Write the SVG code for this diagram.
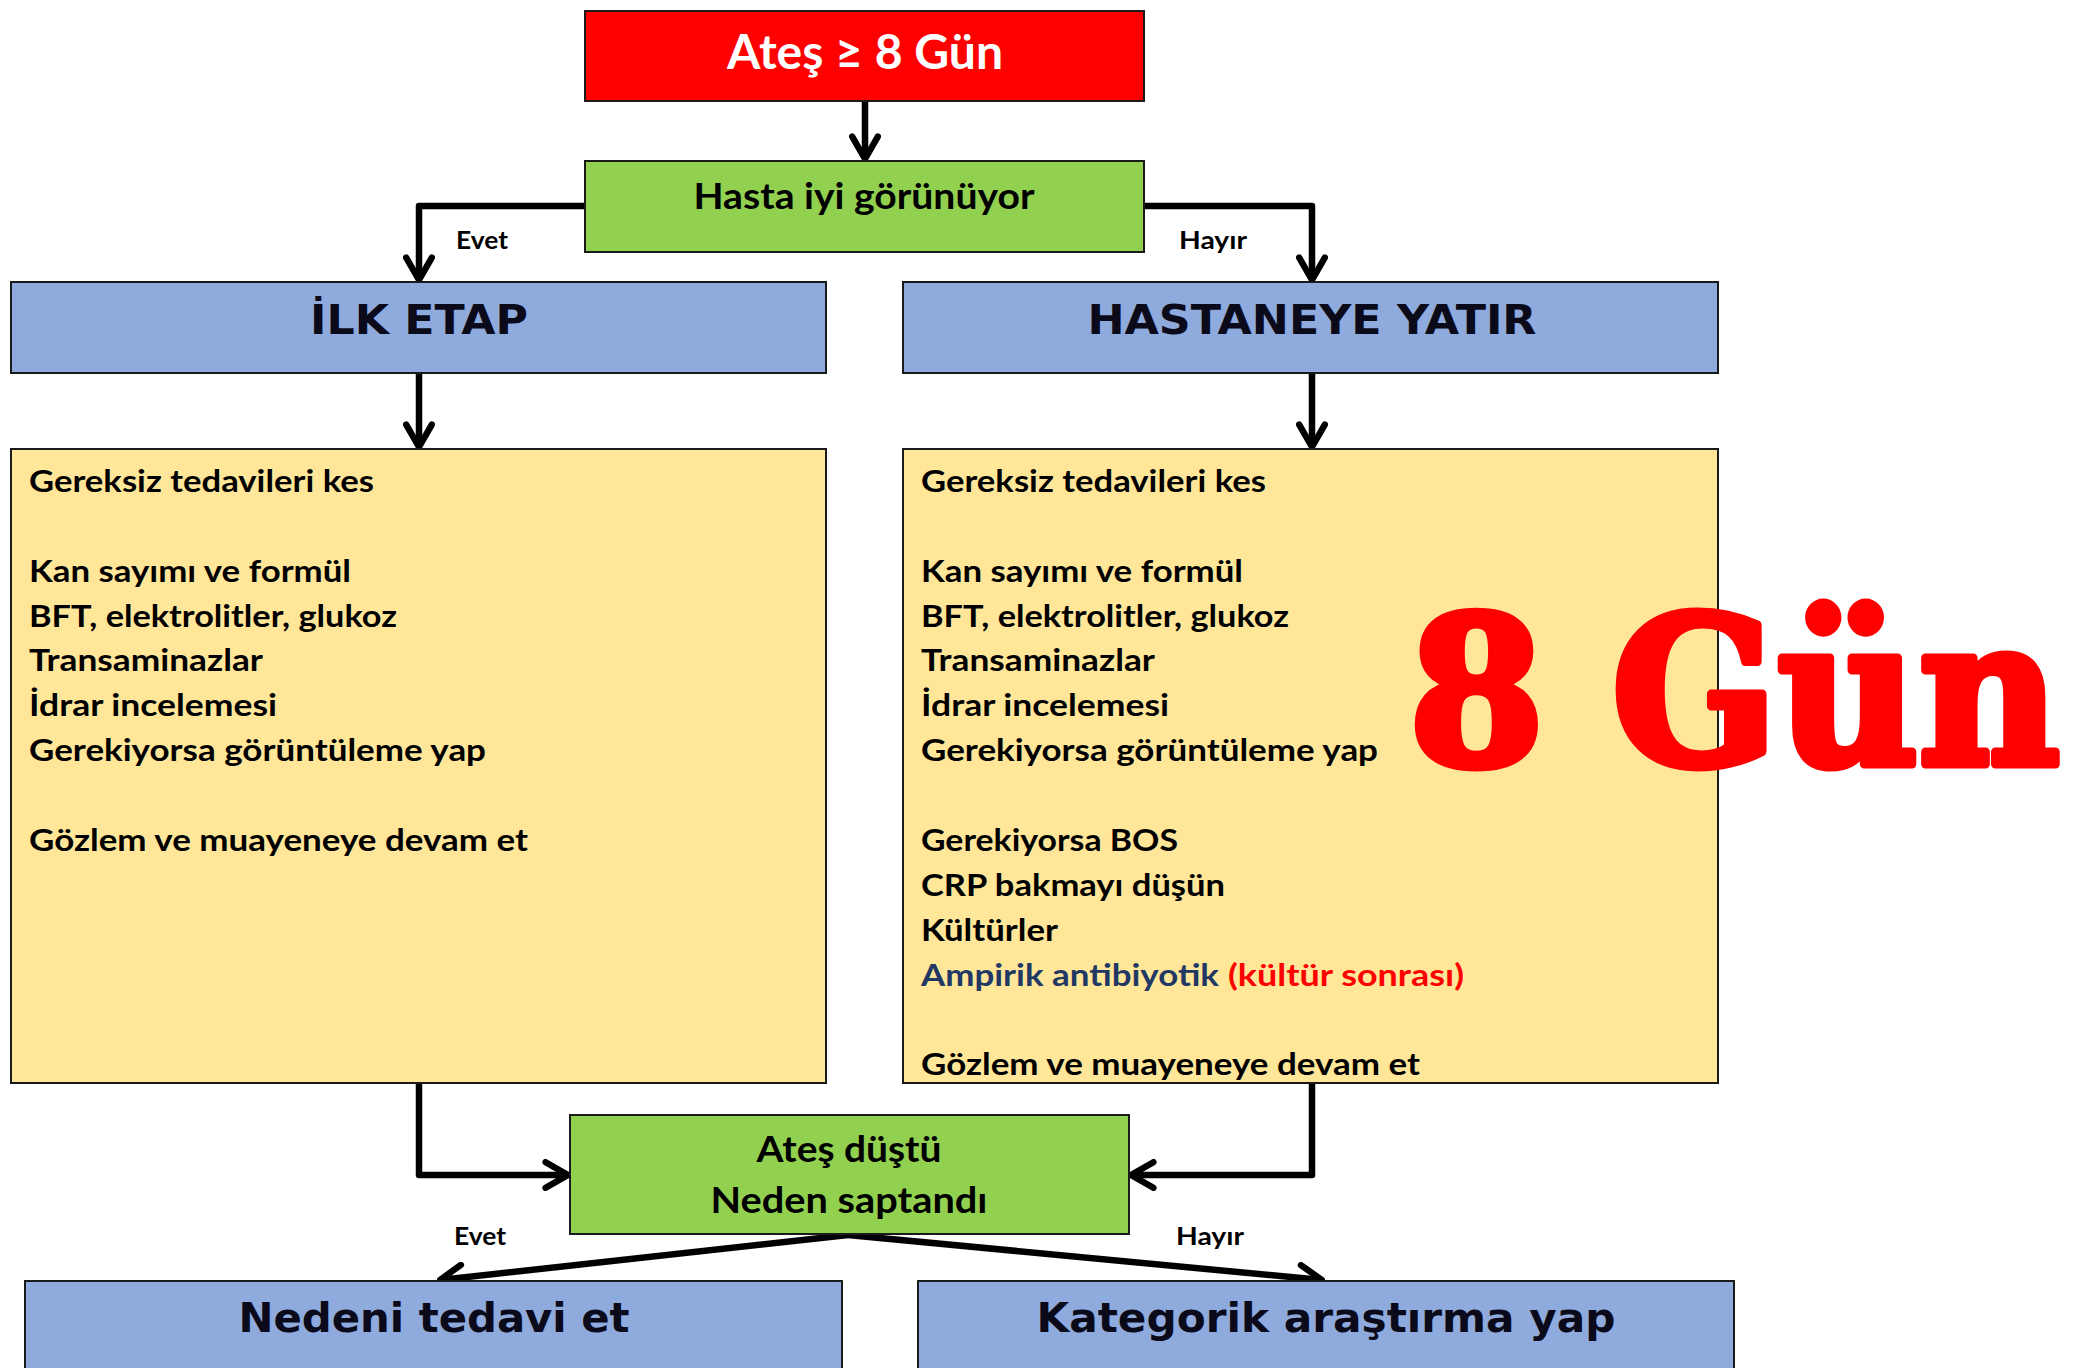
<svg xmlns="http://www.w3.org/2000/svg" width="2088" height="1368" viewBox="0 0 2088 1368">
<style>
.box{stroke:#1a1a1a;stroke-width:2}
.red{fill:#FF0000}
.green{fill:#92D050}
.blue{fill:#8FAADC}
.yel{fill:#FFE699}
.t{font-family:Lato,"Open Sans","Liberation Sans",sans-serif;font-weight:bold;fill:#000}
.h{font-family:"DejaVu Sans",Verdana,sans-serif;font-weight:bold;fill:#0a0a1a}
.lbl{font-family:Lato,"Liberation Sans",sans-serif;font-weight:bold;font-size:25px;fill:#000}
.c{stroke:#000;stroke-width:6.5;fill:none;stroke-linejoin:round}
</style>
<defs>
<marker id="ah" viewBox="0 0 20 20" refX="18" refY="10" markerWidth="32" markerHeight="32" markerUnits="userSpaceOnUse" orient="auto">
<path d="M4,2 L18,10 L4,18" fill="none" stroke="#000" stroke-width="4" stroke-linecap="round" stroke-linejoin="round"/>
</marker>
</defs>

<g id="connectors">
<path class="c" d="M865,101 L865,159" marker-end="url(#ah)"/>
<path class="c" d="M585,206 L419,206 L419,280" marker-end="url(#ah)"/>
<path class="c" d="M1144,206 L1312,206 L1312,280" marker-end="url(#ah)"/>
<path class="c" d="M419,373 L419,447" marker-end="url(#ah)"/>
<path class="c" d="M1312,373 L1312,447" marker-end="url(#ah)"/>
<path class="c" d="M419,1083 L419,1175 L568,1175" marker-end="url(#ah)"/>
<path class="c" d="M1312,1083 L1312,1175 L1131,1175" marker-end="url(#ah)"/>
<path class="c" d="M848,1235 L440,1280" marker-end="url(#ah)"/>
<path class="c" d="M848,1235 L1322,1280" marker-end="url(#ah)"/>
<text class="lbl" x="456" y="249" textLength="52" lengthAdjust="spacingAndGlyphs">Evet</text>
<text class="lbl" x="1179" y="249" textLength="68" lengthAdjust="spacingAndGlyphs">Hayır</text>
<text class="lbl" x="454" y="1245" textLength="52" lengthAdjust="spacingAndGlyphs">Evet</text>
<text class="lbl" x="1176" y="1245" textLength="68" lengthAdjust="spacingAndGlyphs">Hayır</text>
</g>

<g id="n-ates">
<rect class="box red" x="585" y="11" width="559" height="90"/>
<text x="865" y="69" text-anchor="middle" font-family="Lato,'Open Sans',sans-serif" font-weight="bold" font-size="47" fill="#fff" textLength="276" lengthAdjust="spacingAndGlyphs">Ateş ≥ 8 Gün</text>
</g>

<g id="n-hasta">
<rect class="box green" x="585" y="161" width="559" height="91"/>
<text class="t" x="864" y="209" text-anchor="middle" font-size="36" textLength="341" lengthAdjust="spacingAndGlyphs">Hasta iyi görünüyor</text>
</g>

<g id="n-ilk">
<rect class="box blue" x="11" y="282" width="815" height="91"/>
<text class="h" x="419" y="334" text-anchor="middle" font-size="41" textLength="218" lengthAdjust="spacingAndGlyphs">İLK ETAP</text>
</g>

<g id="n-yatir">
<rect class="box blue" x="903" y="282" width="815" height="91"/>
<text class="h" x="1312" y="334" text-anchor="middle" font-size="41" textLength="449" lengthAdjust="spacingAndGlyphs">HASTANEYE YATIR</text>
</g>

<g id="n-ilk-list">
<rect class="box yel" x="11" y="449" width="815" height="634"/>
<g class="t" font-size="31">
<text x="29" y="492" textLength="345" lengthAdjust="spacingAndGlyphs">Gereksiz tedavileri kes</text>
<text x="29" y="582" textLength="322" lengthAdjust="spacingAndGlyphs">Kan sayımı ve formül</text>
<text x="29" y="627" textLength="368" lengthAdjust="spacingAndGlyphs">BFT, elektrolitler, glukoz</text>
<text x="29" y="671" textLength="234" lengthAdjust="spacingAndGlyphs">Transaminazlar</text>
<text x="29" y="716" textLength="248" lengthAdjust="spacingAndGlyphs">İdrar incelemesi</text>
<text x="29" y="761" textLength="457" lengthAdjust="spacingAndGlyphs">Gerekiyorsa görüntüleme yap</text>
<text x="29" y="851" textLength="499" lengthAdjust="spacingAndGlyphs">Gözlem ve muayeneye devam et</text>
</g>
</g>

<g id="n-yatir-list">
<rect class="box yel" x="903" y="449" width="815" height="634"/>
<g class="t" font-size="31">
<text x="921" y="492" textLength="345" lengthAdjust="spacingAndGlyphs">Gereksiz tedavileri kes</text>
<text x="921" y="582" textLength="322" lengthAdjust="spacingAndGlyphs">Kan sayımı ve formül</text>
<text x="921" y="627" textLength="368" lengthAdjust="spacingAndGlyphs">BFT, elektrolitler, glukoz</text>
<text x="921" y="671" textLength="234" lengthAdjust="spacingAndGlyphs">Transaminazlar</text>
<text x="921" y="716" textLength="248" lengthAdjust="spacingAndGlyphs">İdrar incelemesi</text>
<text x="921" y="761" textLength="457" lengthAdjust="spacingAndGlyphs">Gerekiyorsa görüntüleme yap</text>
<text x="921" y="851" textLength="257" lengthAdjust="spacingAndGlyphs">Gerekiyorsa BOS</text>
<text x="921" y="896" textLength="304" lengthAdjust="spacingAndGlyphs">CRP bakmayı düşün</text>
<text x="921" y="941" textLength="137" lengthAdjust="spacingAndGlyphs">Kültürler</text>
<text x="921" y="986" style="fill:#1F3864" textLength="298" lengthAdjust="spacingAndGlyphs">Ampirik antibiyotik</text>
<text x="1228" y="986" style="fill:#FF0000" textLength="236" lengthAdjust="spacingAndGlyphs">(kültür sonrası)</text>
<text x="921" y="1075" textLength="499" lengthAdjust="spacingAndGlyphs">Gözlem ve muayeneye devam et</text>
</g>
</g>

<g id="n-8gun">
<text x="1409" y="764" font-family="'DejaVu Serif','Liberation Serif',serif" font-weight="bold" font-size="205" fill="#FF0000" stroke="#FF0000" stroke-width="9" stroke-linejoin="round" textLength="651" lengthAdjust="spacingAndGlyphs">8 Gün</text>
</g>

<g id="n-dustu">
<rect class="box green" x="570" y="1115" width="559" height="119"/>
<text class="t" x="849" y="1162" text-anchor="middle" font-size="36" textLength="185" lengthAdjust="spacingAndGlyphs">Ateş düştü</text>
<text class="t" x="849" y="1213" text-anchor="middle" font-size="36" textLength="277" lengthAdjust="spacingAndGlyphs">Neden saptandı</text>
</g>

<g id="n-nedeni">
<rect class="box blue" x="25" y="1281" width="817" height="100"/>
<text class="h" x="434" y="1332" text-anchor="middle" font-size="41" textLength="391" lengthAdjust="spacingAndGlyphs">Nedeni tedavi et</text>
</g>

<g id="n-kategorik">
<rect class="box blue" x="918" y="1281" width="816" height="100"/>
<text class="h" x="1326" y="1332" text-anchor="middle" font-size="41" textLength="579" lengthAdjust="spacingAndGlyphs">Kategorik araştırma yap</text>
</g>
</svg>
